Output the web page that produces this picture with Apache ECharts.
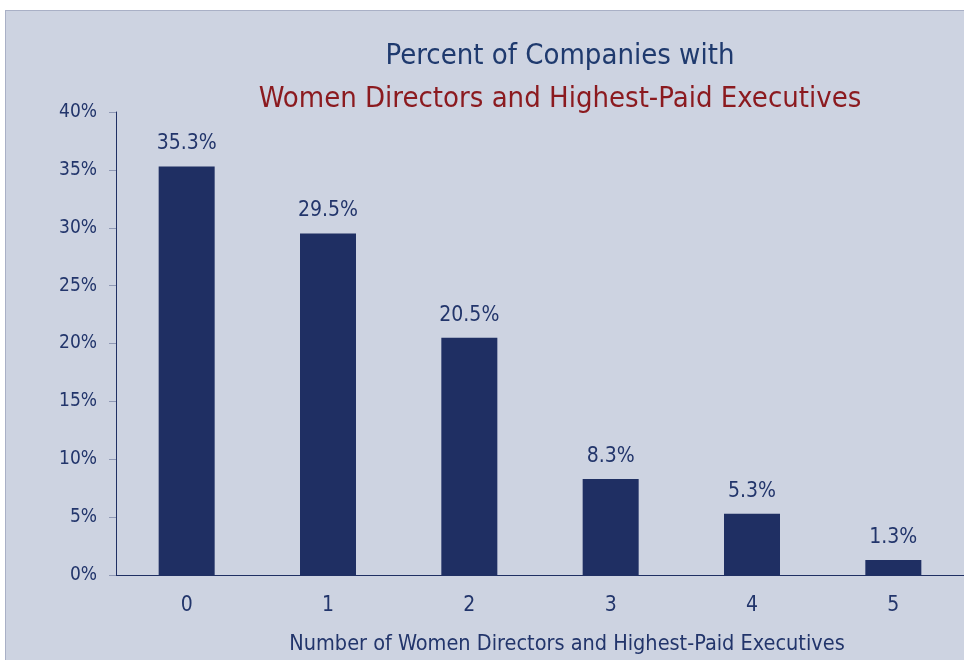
<!DOCTYPE html>
<html>
<head>
<meta charset="utf-8">
<script src="https://cdn.jsdelivr.net/npm/echarts@6/dist/echarts.min.js"></script>
<style>
  html, body { margin: 0; padding: 0; background: #fff; }
  #panel { position: absolute; left: 5px; top: 10px; width: 959px; height: 650px;
           background: #cdd3e1; border-top: 1px solid #a9b0c6; border-left: 1px solid #a9b0c6; box-sizing: border-box; }
  #chart { position: absolute; left: 0; top: 0; width: 964px; height: 660px; }
</style>
</head>
<body>
<div id="panel"></div>
<div id="chart"></div>
<script>
"use strict";
// 数据
var categories = ["0", "1", "2", "3", "4", "5"];
var percentValues = [35.3, 29.5, 20.5, 8.3, 5.3, 1.3];
var yTicks = [0, 5, 10, 15, 20, 25, 30, 35, 40];

var FONT = "'Liberation Sans Narrow', 'DejaVu Sans Condensed', sans-serif";
var NAVY = "#1f2f63";
var TEXT = "#22356b";

var myChart = echarts.init(document.getElementById("chart"), null, { renderer: "canvas" });
var option = {
  backgroundColor: "transparent",
  animation: false,
  title: [
    {
      text: "Percent of Companies with",
      left: 555, top: 37, textAlign: "center",
      textStyle: { color: "#1f3a6e", fontSize: 29, fontWeight: "normal", fontFamily: FONT }
    },
    {
      text: "Women Directors and Highest-Paid Executives",
      left: 555, top: 80, textAlign: "center",
      textStyle: { color: "#8b1a1f", fontSize: 29, fontWeight: "normal", fontFamily: FONT }
    }
  ],
  grid: { left: 116, right: -4, top: 112, bottom: 83, containLabel: false },
  xAxis: {
    type: "category",
    data: categories,
    name: "Number of Women Directors and Highest-Paid Executives",
    nameLocation: "middle",
    nameGap: 58,
    nameTextStyle: { color: TEXT, fontSize: 21.5, fontFamily: FONT, padding: [0, 0, 0, 54] },
    axisLine: { lineStyle: { color: NAVY, width: 1 } },
    axisTick: { show: false },
    axisLabel: { color: TEXT, fontSize: 21, fontFamily: FONT, margin: 20 }
  },
  yAxis: {
    type: "value",
    min: 0, max: 40, interval: 5,
    axisLine: { show: true, lineStyle: { color: NAVY, width: 1 } },
    axisTick: { show: true, length: 7, lineStyle: { color: "#8f98b4" } },
    splitLine: { show: false },
    axisLabel: {
      color: TEXT, fontSize: 19, fontFamily: FONT, margin: 19,
      formatter: function (v) { return yTicks.indexOf(v) >= 0 ? v + "%" : ""; }
    }
  },
  series: [
    {
      type: "bar",
      data: percentValues,
      barWidth: 56,
      itemStyle: { color: NAVY },
      label: {
        show: true, position: "top", distance: 12,
        color: TEXT, fontSize: 21, fontFamily: FONT,
        formatter: function (p) { return p.value.toFixed(1) + "%"; }
      }
    }
  ]
};
myChart.setOption(option);
</script>
</body>
</html>
